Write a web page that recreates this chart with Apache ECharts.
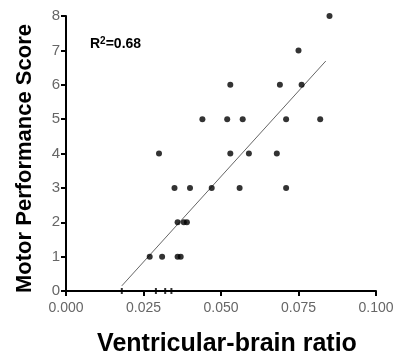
<!DOCTYPE html>
<html><head><meta charset="utf-8">
<script src="https://cdn.jsdelivr.net/npm/echarts@6/dist/echarts.min.js"></script>
<style>html,body{margin:0;padding:0;background:#fff}#c{width:393px;height:356px}</style>
</head><body><div id="c"></div>
<script>
// Data
var ratioX = [0.085, 0.075, 0.053, 0.069, 0.076, 0.044, 0.052, 0.057, 0.071, 0.082,
              0.053, 0.059, 0.068, 0.047, 0.056, 0.071, 0.030, 0.035, 0.040,
              0.036, 0.038, 0.039, 0.027, 0.031, 0.036, 0.037];
var scoreY = [8, 7, 6, 6, 6, 5, 5, 5, 5, 5,
              4, 4, 4, 3, 3, 3, 4, 3, 3,
              2, 2, 2, 1, 1, 1, 1];
var zeroX = [0.018, 0.029, 0.032, 0.034];
var zeroY = [0, 0, 0, 0];
var fitX = [0.018, 0.0838];
var fitY = [0.15, 6.69];
var xTicks = ['0.000', '0.025', '0.050', '0.075', '0.100'];
var rSquared = '0.68';

var chart = echarts.init(document.getElementById('c'), null, {renderer: 'canvas'});
var pts = ratioX.map(function (x, i) { return [x, scoreY[i]]; });
var zpts = zeroX.map(function (x, i) { return [x, zeroY[i]]; });
var fit = fitX.map(function (x, i) { return [x, fitY[i]]; });
chart.setOption({
  animation: false,
  backgroundColor: '#fff',
  grid: {left: 66, right: 17, top: 16, bottom: 65, containLabel: false, outerBoundsMode: 'none'},
  title: {
    text: '{b|R}{s|2}{b|=' + rSquared + '}',
    left: 90, top: 36, padding: 0,
    textStyle: {
      rich: {
        b: {fontFamily: 'Liberation Sans', fontWeight: 'bold', fontSize: 14, color: '#000'},
        s: {fontFamily: 'Liberation Sans', fontWeight: 'bold', fontSize: 10, color: '#000', verticalAlign: 'top', padding: [0, 0, 6, 0]}
      }
    }
  },
  xAxis: {
    type: 'value', min: 0, max: 0.1, interval: 0.025,
    name: 'Ventricular-brain ratio', nameLocation: 'middle', nameGap: 41,
    nameTextStyle: {fontFamily: 'Liberation Sans', fontWeight: 'bold', fontSize: 25, color: '#000', padding: [0, 0, 0, 12]},
    axisLine: {show: true, lineStyle: {color: '#000', width: 2}},
    axisTick: {show: true, length: 5, lineStyle: {color: '#000', width: 2}},
    axisLabel: {
      fontFamily: 'Liberation Sans', fontSize: 14, color: '#666', margin: 10,
      formatter: function (v) { return xTicks[Math.round(v / 0.025)]; }
    },
    splitLine: {show: false}
  },
  yAxis: {
    type: 'value', min: 0, max: 8, interval: 1,
    name: 'Motor Performance Score', nameLocation: 'middle', nameGap: 30,
    nameTextStyle: {fontFamily: 'Liberation Sans', fontWeight: 'bold', fontSize: 22, color: '#000', padding: [0, 10, 0, 0]},
    axisLine: {show: true, lineStyle: {color: '#000', width: 2}},
    axisTick: {show: true, length: 5, lineStyle: {color: '#000', width: 2}},
    axisLabel: {fontFamily: 'Liberation Sans', fontSize: 15, color: '#666', margin: 6},
    splitLine: {show: false}
  },
  series: [
    {type: 'line', data: fit, symbol: 'none', lineStyle: {color: '#666', width: 1}, z: 2},
    {type: 'scatter', data: pts, symbol: 'circle', symbolSize: 6, itemStyle: {color: '#000'}, z: 3},
    {type: 'scatter', data: zpts, symbol: 'rect', symbolSize: [2, 6], itemStyle: {color: '#000'}, z: 3}
  ]
});
</script></body></html>
